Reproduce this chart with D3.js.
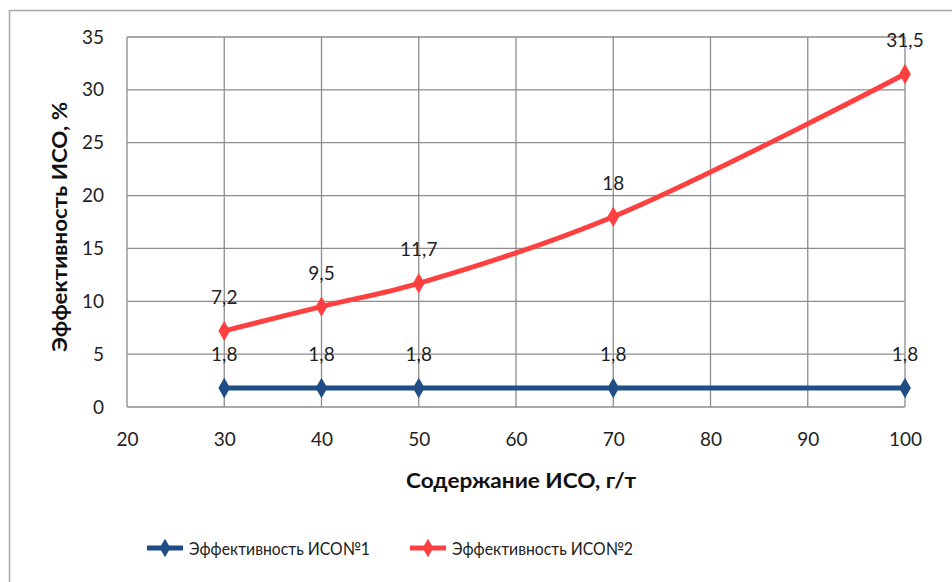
<!DOCTYPE html>
<html>
<head>
<meta charset="utf-8">
<script src="https://cdn.jsdelivr.net/npm/d3@7"></script>
<style>
  html, body { margin: 0; padding: 0; background: #fff; }
  svg { display: block; font-family: Lato, "Open Sans", sans-serif; }
</style>
</head>
<body>
<svg id="chart" width="952" height="582"></svg>
<script>
// Dose of the reagent, g/t
const doses = [30, 40, 50, 70, 100];
// Efficiency of each reagent, %
const iso1 = [1.8, 1.8, 1.8, 1.8, 1.8];
const iso2 = [7.2, 9.5, 11.7, 18, 31.5];
const seriesNames = ["Эффективность ИСО№1", "Эффективность ИСО№2"];
const seriesColors = ["#1f4e87", "#ff4040"];
const xTicks = [20, 30, 40, 50, 60, 70, 80, 90, 100];
const yTicks = [0, 5, 10, 15, 20, 25, 30, 35];
const fmt = v => String(v).replace(".", ",");

const svg = d3.select("#chart");

// outer chart frame
svg.append("rect")
  .attr("x", 9.5).attr("y", 10.5)
  .attr("width", 960).attr("height", 600)
  .attr("fill", "none").attr("stroke", "#a6a6a6").attr("stroke-width", 1.5);

const plot = { left: 127, right: 905, top: 37, bottom: 407 };
const x = d3.scaleLinear().domain([20, 100]).range([plot.left, plot.right]);
const y = d3.scaleLinear().domain([0, 35]).range([plot.bottom, plot.top]);

// gridlines
const grid = svg.append("g").attr("stroke", "#8c8c8c").attr("stroke-width", 1.3);
xTicks.forEach(t => grid.append("line")
  .attr("x1", x(t)).attr("x2", x(t)).attr("y1", plot.top).attr("y2", plot.bottom));
yTicks.forEach(t => grid.append("line")
  .attr("x1", plot.left).attr("x2", plot.right).attr("y1", y(t)).attr("y2", y(t)));

// axes (labels only, the frame lines come from the grid)
const xAxis = svg.append("g")
  .attr("transform", `translate(0,${plot.bottom})`)
  .call(d3.axisBottom(x).tickValues(xTicks).tickSize(0).tickPadding(26).tickFormat(d3.format("d")));
const yAxis = svg.append("g")
  .attr("transform", `translate(${plot.left},0)`)
  .call(d3.axisLeft(y).tickValues(yTicks).tickSize(0).tickPadding(23).tickFormat(d3.format("d")));
[xAxis, yAxis].forEach(a => {
  a.select(".domain").remove();
  a.selectAll("text").attr("font-size", 19).attr("fill", "#222")
    .attr("font-family", "Lato, 'Open Sans', sans-serif");
});

// axis titles
svg.append("text")
  .attr("x", 521).attr("y", 488)
  .attr("text-anchor", "middle").attr("font-size", 20).attr("font-weight", "bold")
  .attr("textLength", 230).attr("lengthAdjust", "spacingAndGlyphs")
  .attr("fill", "#111").text("Содержание ИСО, г/т");
svg.append("text")
  .attr("transform", `translate(67,${(plot.top + plot.bottom) / 2 + 5}) rotate(-90)`)
  .attr("text-anchor", "middle").attr("font-size", 20).attr("font-weight", "bold")
  .attr("textLength", 250).attr("lengthAdjust", "spacingAndGlyphs")
  .attr("fill", "#111").text("Эффективность ИСО, %");

const allSeries = [iso1, iso2];
const line = d3.line()
  .x((d, i) => x(doses[i]))
  .y(d => y(d))
  .curve(d3.curveCatmullRom.alpha(0.5));
const diamond = d3.symbol().type(d3.symbolDiamond).size(120);

allSeries.forEach((vals, s) => {
  const g = svg.append("g");
  g.append("path").datum(vals)
    .attr("d", line).attr("fill", "none")
    .attr("stroke", seriesColors[s]).attr("stroke-width", 5)
    .attr("stroke-linejoin", "round");
  g.selectAll("path.m").data(vals).join("path")
    .attr("class", "m")
    .attr("d", diamond)
    .attr("transform", (d, i) => `translate(${x(doses[i])},${y(d)})`)
    .attr("fill", seriesColors[s]);
  g.selectAll("text").data(vals).join("text")
    .attr("x", (d, i) => x(doses[i]))
    .attr("y", d => y(d) - 27)
    .attr("text-anchor", "middle").attr("font-size", 19).attr("fill", "#222")
    .text(d => fmt(d));
});

// legend
const legendX = [147, 410];
seriesNames.forEach((name, s) => {
  const lg = svg.append("g").attr("transform", `translate(${legendX[s]},548)`);
  lg.append("line").attr("x1", 0).attr("x2", 36).attr("y1", 0).attr("y2", 0)
    .attr("stroke", seriesColors[s]).attr("stroke-width", 5);
  lg.append("path").attr("d", d3.symbol().type(d3.symbolDiamond).size(100))
    .attr("transform", "translate(18,0)").attr("fill", seriesColors[s]);
  lg.append("text").attr("x", 42).attr("y", 7)
    .attr("font-size", 18).attr("fill", "#222")
    .attr("textLength", 181).attr("lengthAdjust", "spacingAndGlyphs")
    .text(name);
});
</script>
</body>
</html>
